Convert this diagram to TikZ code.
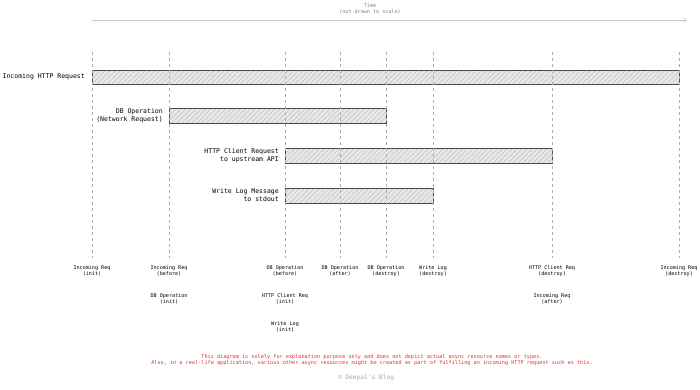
\documentclass[tikz,border=0pt]{standalone}
\usepackage{fontspec}
\setmonofont{DejaVu Sans Mono}
\usetikzlibrary{patterns.meta,arrows.meta}

\definecolor{notered}{HTML}{E03131}

\tikzset{
    guide/.style={draw=gray!65,thin,dash pattern=on 3pt off 3pt},
    bar/.style={draw=gray!60!black,thin,preaction={fill=gray!18},
                pattern={Lines[angle=45,distance=3.5pt,line width=0.35pt]},pattern color=gray!60},
    rowlabel/.style={anchor=east,align=right,inner sep=0pt,
                     font=\ttfamily\fontsize{6.5}{8}\selectfont},
    eventlabel/.style={anchor=north,align=center,inner sep=0pt,
                       font=\ttfamily\fontsize{5.1}{6.4}\selectfont},
    timearrow/.style={draw=gray!45,thin,-{Straight Barb[length=4pt,width=6pt]}}
}

\begin{document}
\begin{tikzpicture}[x=1pt,y=-1pt]
            \useasboundingbox (0,0) rectangle (700,389);

            % time axis
            \coordinate (tstart) at (92,20);
            \coordinate (tend) at (687,20);
            \draw [timearrow] (tstart) -- (tend);
            \node [eventlabel,text=gray] (timelbl) at (370,3.5) {Time\\(not drawn to scale)};

            % Y % 70   108   148   188
            \draw [bar] (92,70) rectangle (679,84);
            \draw [bar] (169,108) rectangle (386,123);
            \draw [bar] (285,148) rectangle (552,163);
            \draw [bar] (285,188) rectangle (433,203);

            % X % 92   169   285   340   386   433   552   679
            \foreach \x in {92,169,285,340,386,433,552,679}
                {\draw [guide] (\x,52) -- (\x,258);}

            \node [rowlabel] (increq) at (85,77) {Incoming HTTP Request};
            \node [rowlabel] (dbop) at (163,115.5) {DB Operation\\(Network Request)};
            \node [rowlabel] (httpreq) at (279,155.5) {HTTP Client Request\\to upstream API};
            \node [rowlabel] (writelog) at (279,195.5) {Write Log Message\\to stdout};

            % events along the axis
            \node [eventlabel] (incinit) at (92,265) {Incoming Req\\(init)};
            \node [eventlabel] (incbefore) at (169,265) {Incoming Req\\(before)};
            \node [eventlabel] (dbbefore) at (285,265) {DB Operation\\(before)};
            \node [eventlabel] (dbafter) at (340,265) {DB Operation\\(after)};
            \node [eventlabel] (dbdestroy) at (386,265) {DB Operation\\(destroy)};
            \node [eventlabel] (logdestroy) at (433,265) {Write Log\\(destroy)};
            \node [eventlabel] (httpdestroy) at (552,265) {HTTP Client Req\\(destroy)};
            \node [eventlabel] (incdestroy) at (679,265) {Incoming Req\\(destroy)};

            \node [eventlabel] (dbinit) at (169,293) {DB Operation\\(init)};
            \node [eventlabel] (httpinit) at (285,293) {HTTP Client Req\\(init)};
            \node [eventlabel] (incafter) at (552,293) {Incoming Req\\(after)};
            \node [eventlabel] (loginit) at (285,321) {Write Log\\(init)};

            % footnote
            \node [eventlabel,text=notered,font=\ttfamily\fontsize{5.2}{6.6}\selectfont] (note) at (372,354)
                {This diagram is solely for explanation purpose only and does not depict actual async resource names or types.\\
                 Also, in a real-life application, various other async resources might be created as part of fulfilling an incoming HTTP request such as this.};
            \node [eventlabel,text=gray!70,font=\ttfamily\fontsize{6.2}{7}\selectfont] (blog) at (366,375) {© Deepal's Blog};
        \end{tikzpicture}
\end{document}
